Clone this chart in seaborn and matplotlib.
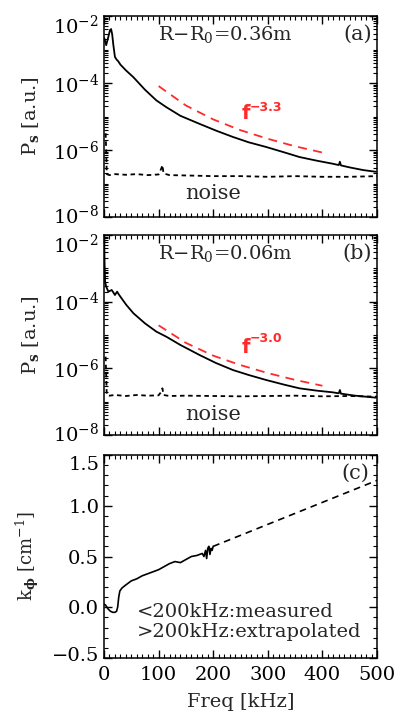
import numpy as np
import pandas as pd
import matplotlib
matplotlib.use("Agg")
import matplotlib.pyplot as plt
from matplotlib.ticker import MultipleLocator, LogLocator, NullFormatter, FixedLocator, FuncFormatter
from matplotlib.transforms import ScaledTranslation
import seaborn as sns

# ---------------- data ----------------
# Panel (a): R-R0 = 0.36 m
fa_sig = [0.5, 2, 4, 8, 11, 13, 15, 17, 20, 23, 26, 30, 40, 54, 75, 96, 114, 140, 175, 205, 236, 265, 297, 330, 358, 390, 419, 430, 432, 434, 450, 475, 498]
pa_sig_log = [-2.66, -2.75, -2.87, -2.62, -2.42, -2.39, -2.55, -2.85, -3.22, -3.3, -3.35, -3.45, -3.62, -3.83, -4.2, -4.52, -4.72, -4.98, -5.22, -5.42, -5.61, -5.77, -5.91, -6.07, -6.21, -6.32, -6.41, -6.45, -6.35, -6.46, -6.52, -6.6, -6.65]
fa_noise = [3, 4, 5, 10, 20, 40, 60, 80, 100, 105, 107, 109, 120, 150, 200, 250, 300, 350, 400, 450, 500]
pa_noise_log = [-5.5, -6.0, -6.72, -6.75, -6.72, -6.74, -6.72, -6.75, -6.73, -6.55, -6.45, -6.7, -6.75, -6.76, -6.78, -6.78, -6.8, -6.78, -6.8, -6.8, -6.78]
fa_fit = [100, 150, 200, 250, 300, 350, 400]
pa_fit = [8.1e-5, 2.13e-5, 8.2e-6, 3.9e-6, 2.16e-6, 1.29e-6, 8.4e-7]

# Panel (b): R-R0 = 0.06 m
fb_sig = [0.3, 1, 2, 4, 8, 14, 17, 20, 24, 27, 30, 41, 54, 75, 96, 114, 140, 175, 205, 236, 265, 297, 330, 358, 390, 419, 430, 432, 434, 460, 498]
pb_sig_log = [-2.0, -2.8, -3.4, -3.55, -3.7, -3.65, -3.72, -3.8, -3.7, -3.78, -3.85, -4.1, -4.35, -4.65, -4.9, -5.05, -5.3, -5.6, -5.84, -6.05, -6.2, -6.35, -6.49, -6.6, -6.67, -6.72, -6.75, -6.65, -6.76, -6.82, -6.88]
fb_noise = [3, 4, 5, 10, 20, 40, 60, 80, 100, 105, 107, 109, 120, 150, 200, 250, 300, 350, 400, 450, 500]
pb_noise_log = [-5.65, -6.2, -6.8, -6.82, -6.8, -6.83, -6.8, -6.82, -6.81, -6.7, -6.6, -6.8, -6.83, -6.82, -6.83, -6.84, -6.83, -6.82, -6.84, -6.83, -6.85]
fb_fit = [100, 150, 200, 250, 300, 350, 400]
pb_fit = [1.95e-5, 5.8e-6, 2.4e-6, 1.25e-6, 7.2e-7, 4.5e-7, 3.0e-7]

# Panel (c): k_phi
fc_meas = [0.5, 3, 8, 12, 16, 20, 23, 25, 27, 29, 33, 40, 50, 60, 70, 80, 90, 100, 110, 120, 130, 140, 150, 160, 170, 175, 180, 183, 186, 188, 190, 192, 194, 196, 198, 200]
kc_meas = [0.03, 0.02, -0.02, -0.04, -0.05, -0.05, -0.04, 0.0, 0.1, 0.16, 0.19, 0.22, 0.26, 0.28, 0.31, 0.33, 0.35, 0.37, 0.40, 0.43, 0.45, 0.44, 0.47, 0.50, 0.51, 0.52, 0.53, 0.50, 0.56, 0.48, 0.58, 0.60, 0.52, 0.58, 0.56, 0.60]
fc_extr = [200, 500]
kc_extr = [0.60, 1.25]

xticks = [0, 100, 200, 300, 400, 500]
labels_pos = ["R\u2212R$_0$=0.36m", "R\u2212R$_0$=0.06m"]

# ---------------- styling ----------------
sns.set_style("ticks")
plt.rcParams['font.family'] = ['DejaVu Serif', 'DejaVu Sans']
plt.rcParams['mathtext.fontset'] = 'dejavuserif'
plt.rcParams['axes.linewidth'] = 1.1
FS = 14
RED = "#ff2a2a"

fig = plt.figure(figsize=(3.98, 7.19), dpi=100)
W, H = 398, 719
def add_ax(left, top, right, bottom):
    return fig.add_axes([left / W, 1 - bottom / H, (right - left) / W, (bottom - top) / H])

axa = add_ax(104, 16, 377, 217)
axb = add_ax(104, 235, 377, 435)
axc = add_ax(104, 455, 377, 658)

def style_common(ax):
    ax.set_xlim(0, 500)
    ax.xaxis.set_major_locator(FixedLocator(xticks))
    ax.xaxis.set_minor_locator(MultipleLocator(10))
    ax.tick_params(which='both', direction='in', top=True, right=True, colors='black', labelsize=FS)
    ax.tick_params(which='major', length=6, width=1.0)
    ax.tick_params(which='minor', length=3, width=0.8)
    ax.tick_params(axis='x', which='major', pad=6)
    for s in ax.spines.values():
        s.set_color('black')

def logfmt(v, pos):
    e = int(round(np.log10(v)))
    return r"$10^{%d}$" % e

def spec_panel(ax, f_sig, p_log, f_noise, n_log, f_fit, p_fit, title, letter, fit_lbl, fit_xy, exp_xy, noise_y):
    df = pd.DataFrame({"f": f_sig, "P": np.power(10.0, p_log)})
    dn = pd.DataFrame({"f": f_noise, "P": np.power(10.0, n_log)})
    dfit = pd.DataFrame({"f": f_fit, "P": p_fit})
    sns.lineplot(data=df, x="f", y="P", ax=ax, color="black", lw=1.3, sort=False)
    sns.lineplot(data=dn, x="f", y="P", ax=ax, color="black", lw=1.3, sort=False).lines[-1].set_dashes([2.5, 2])
    sns.lineplot(data=dfit, x="f", y="P", ax=ax, color=RED, lw=1.3, sort=False).lines[-1].set_dashes([5, 3.5])
    ax.set_yscale("log")
    ax.set_ylim(1e-8, 1e-2)
    ax.yaxis.set_major_locator(FixedLocator([1e-8, 1e-6, 1e-4, 1e-2]))
    ax.yaxis.set_major_formatter(FuncFormatter(logfmt))
    ax.yaxis.set_minor_locator(LogLocator(base=10, subs=np.arange(1, 10), numticks=20))
    ax.yaxis.set_minor_formatter(NullFormatter())
    style_common(ax)
    ax.set_xticklabels([])
    ax.set_xlabel("")
    ax.set_ylabel("P$_\\mathbf{s}$ [a.u.]", fontsize=FS, labelpad=4)
    ax.text(222, 10**-2.55, title, ha='center', va='center', fontsize=FS)
    ax.text(464, 10**-2.55, letter, ha='center', va='center', fontsize=FS + 1)
    ax.text(200, 10**noise_y, "noise", ha='center', va='center', fontsize=FS + 1)
    ax.text(fit_xy[0], 10**fit_xy[1], "f", ha='left', va='baseline', fontsize=FS, color=RED,
            fontweight='bold', family='DejaVu Sans')
    ax.text(exp_xy[0], 10**exp_xy[1], fit_lbl, ha='left', va='center', fontsize=9, color=RED,
            fontweight='bold', family='DejaVu Sans')

spec_panel(axa, fa_sig, pa_sig_log, fa_noise, pa_noise_log, fa_fit, pa_fit, labels_pos[0], "(a)", "\u22123.3",
           (252, -5.07), (267, -4.72), -7.3)
spec_panel(axb, fb_sig, pb_sig_log, fb_noise, pb_noise_log, fb_fit, pb_fit, labels_pos[1], "(b)", "\u22123.0",
           (252, -5.55), (267, -5.12), -7.4)

# Panel (c)
dm = pd.DataFrame({"f": fc_meas, "k": kc_meas})
de = pd.DataFrame({"f": fc_extr, "k": kc_extr})
sns.lineplot(data=dm, x="f", y="k", ax=axc, color="black", lw=1.2, sort=False)
sns.lineplot(data=de, x="f", y="k", ax=axc, color="black", lw=1.2, sort=False).lines[-1].set_dashes([4, 3])
axc.set_ylim(-0.5, 1.5)
axc.yaxis.set_major_locator(FixedLocator([-0.5, 0.0, 0.5, 1.0, 1.5]))
axc.yaxis.set_minor_locator(MultipleLocator(0.1))
axc.yaxis.set_major_formatter(FuncFormatter(lambda v, p: ("%.1f" % v).replace("-", "\u2212")))
style_common(axc)
axc.set_xticklabels([str(t) for t in xticks])
axc.set_xlabel("Freq [kHz]", fontsize=FS, labelpad=6)
axc.set_ylabel("k$_\\mathbf{\\phi}$ [cm$^{-1}$]", fontsize=FS - 1, labelpad=4)
axc.text(461, 1.32, "(c)", ha='center', va='center', fontsize=FS + 1)
axc.text(60, -0.05, "<200kHz:measured", ha='left', va='center', fontsize=FS)
axc.text(60, -0.24, ">200kHz:extrapolated", ha='left', va='center', fontsize=FS)

for ax in (axa, axb, axc):
    ax.yaxis.set_label_coords(-0.23, 0.5)

# IDL-like: edge tick labels pushed inward
fig.canvas.draw()
def shift_label(ax, idx, dy_px):
    t = ax.yaxis.get_major_ticks()[idx].label1
    t.set_transform(t.get_transform() + ScaledTranslation(0, dy_px / 100.0, fig.dpi_scale_trans))

for ax in (axa, axb):
    shift_label(ax, 3, -8)
    shift_label(ax, 0, 3)
shift_label(axc, 4, -8)
shift_label(axc, 0, 4)

fig.savefig("out.png", dpi=100)
